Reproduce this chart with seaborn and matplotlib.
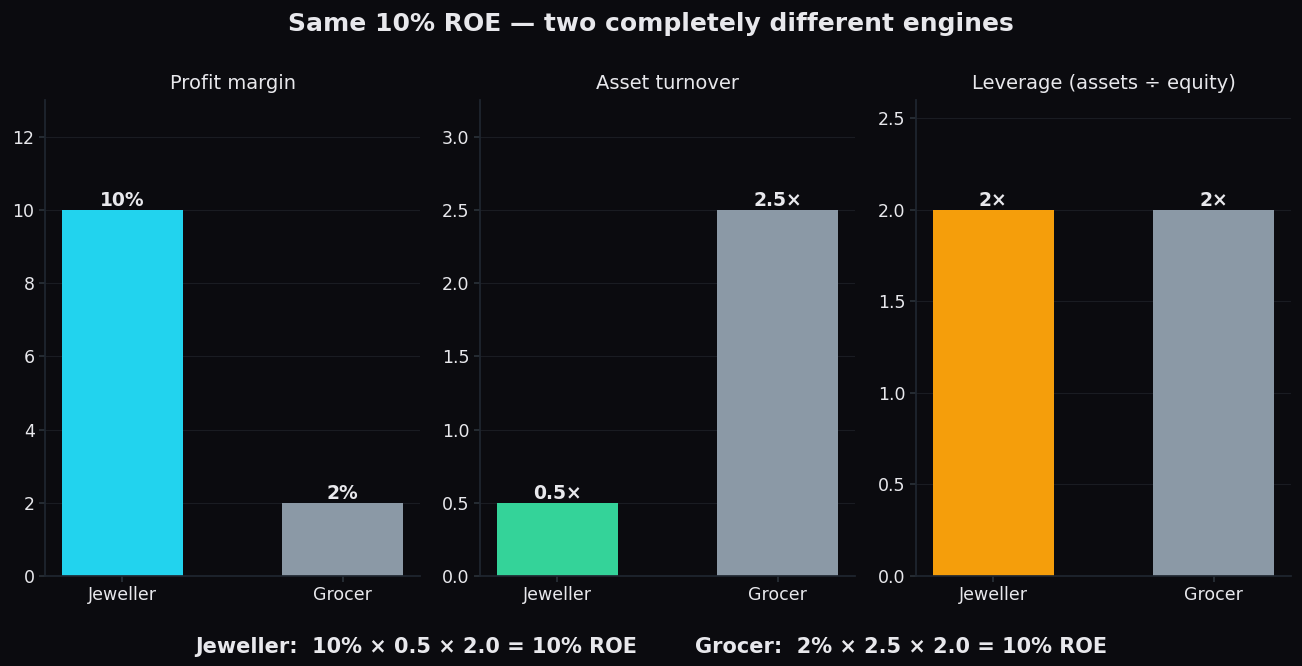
import matplotlib
matplotlib.use("Agg")
import matplotlib.pyplot as plt
import seaborn as sns
import pandas as pd

companies = ["Jeweller", "Grocer"]
margin = [10, 2]
turnover = [0.5, 2.5]
leverage = [2, 2]
titles = ["Profit margin", "Asset turnover", "Leverage (assets ÷ equity)"]
labels = [["10%", "2%"], ["0.5×", "2.5×"], ["2×", "2×"]]
colors = [["#22d3ee", "#8b99a6"], ["#34d399", "#8b99a6"], ["#f59e0b", "#8b99a6"]]
ylims = [13, 3.25, 2.6]
yticks = [[0, 2, 4, 6, 8, 10, 12], [0, 0.5, 1, 1.5, 2, 2.5, 3], [0, 0.5, 1, 1.5, 2, 2.5]]

bg = "#0b0b0f"
txt = "#e8e8ec"
sns.set_theme(style="dark")
plt.rcParams["font.family"] = ["DejaVu Sans"]

fig = plt.figure(figsize=(13.02, 6.66), dpi=100, facecolor=bg)
lefts = [45, 480, 916]
for i, vals in enumerate([margin, turnover, leverage]):
    ax = fig.add_axes([lefts[i] / 1302, 90 / 666, 375 / 1302, 476 / 666])
    ax.set_facecolor(bg)
    df = pd.DataFrame({"c": companies, "v": vals})
    sns.barplot(data=df, x="c", y="v", hue="c", palette=colors[i], width=0.55,
                legend=False, ax=ax, saturation=1, linewidth=0)
    ax.set_xlim(-0.35, 1.35)
    ax.set_ylim(0, ylims[i])
    ax.set_yticks(yticks[i])
    ax.set_xlabel("")
    ax.set_ylabel("")
    ax.set_title(titles[i], color=txt, fontsize=14, pad=8)
    ax.grid(axis="y", color="#1a1c22", linewidth=0.8)
    ax.grid(axis="x", visible=False)
    ax.set_axisbelow(True)
    for s in ["top", "right"]:
        ax.spines[s].set_visible(False)
    for s in ["left", "bottom"]:
        ax.spines[s].set_visible(True)
        ax.spines[s].set_color("#1f2630")
    ax.tick_params(colors=txt, labelsize=12.5, length=4, color="#2a3038", left=True, bottom=True)
    for j, v in enumerate(vals):
        ax.text(j, v, labels[i][j], ha="center", va="bottom", color=txt,
                fontsize=13.5, fontweight="bold")

fig.suptitle("Same 10% ROE — two completely different engines", color=txt,
             fontsize=18, fontweight="bold", y=0.982)
fig.text(0.5, 0.02, "Jeweller:  10% × 0.5 × 2.0 = 10% ROE        Grocer:  2% × 2.5 × 2.0 = 10% ROE",
         ha="center", color=txt, fontsize=15, fontweight="bold")
fig.savefig("out.png", facecolor=bg)
